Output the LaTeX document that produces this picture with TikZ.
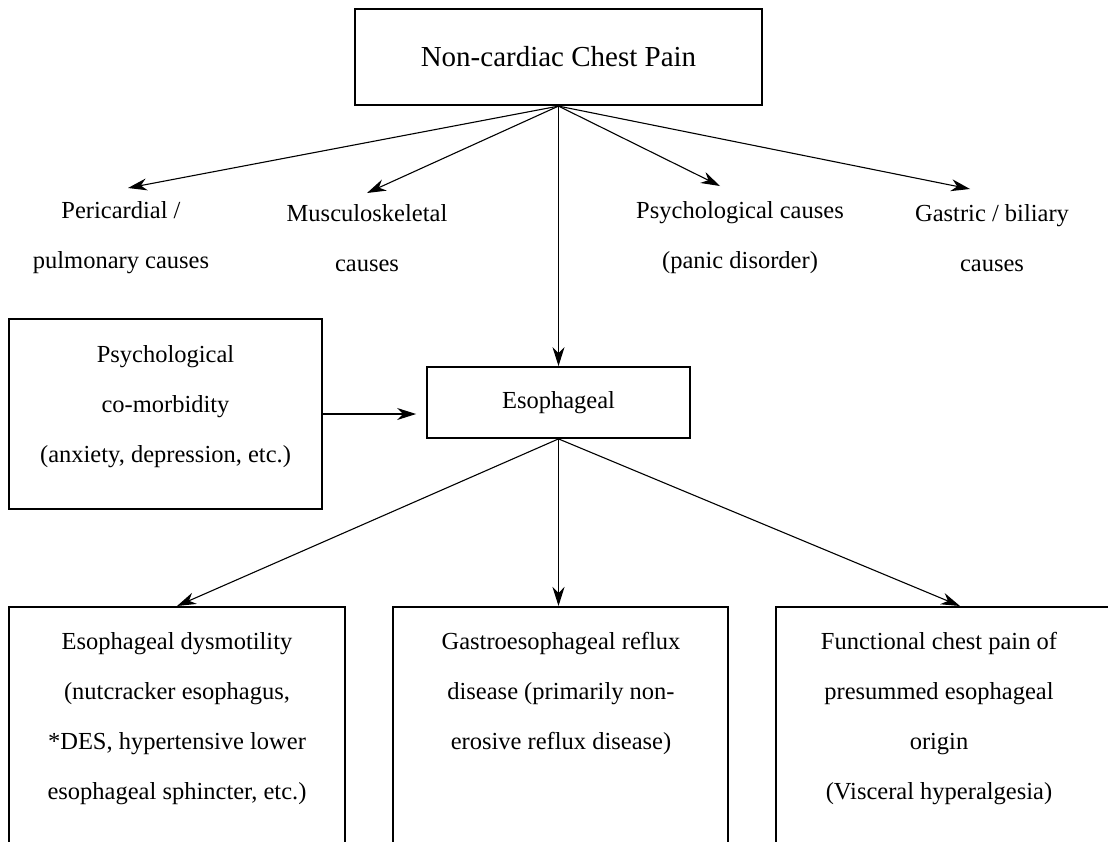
\documentclass[tikz,border=0pt]{standalone}
\usepackage{fontspec}
\setmainfont{Liberation Serif}
\usetikzlibrary{arrows.meta}
\begin{document}
\begin{tikzpicture}[x=1pt,y=-1pt,
  boxstyle/.style={draw, line width=1.8pt, inner sep=0pt},
  txt/.style={align=center, font=\fontsize{24.5}{50}\selectfont, inner sep=0pt},
  arr/.style={line width=1.1pt, -{Stealth[length=19pt,width=12pt,inset=6pt]}},
]
\useasboundingbox (0,0) rectangle (1108,841);
\clip (0,0) rectangle (1108,841);

% top
\node[boxstyle, line width=2.2pt, minimum width=407pt, minimum height=96pt,
      font=\fontsize{29}{34}\selectfont] (top) at (558.5,57) {Non-cardiac Chest Pain};

% causes
\node[txt] (peri) at (121,238) {Pericardial /\\pulmonary causes};
\node[txt] (musc) at (367,238) {Musculoskeletal\\causes};
\node[txt] (psyc) at (740,238) {Psychological causes\\(panic disorder)};
\node[txt] (gast) at (992,238) {Gastric / biliary\\causes};

\coordinate (tperi) at (128,188);
\coordinate (tmusc) at (367,193);
\coordinate (tpsyc) at (720,186);
\coordinate (tgast) at (970,189);

% esophageal
\node[boxstyle, txt, minimum width=263pt, minimum height=71pt] (eso) at (558.5,402.5) {Esophageal};

% psychological co-morbidity
\node[boxstyle, minimum width=313pt, minimum height=190pt] (comor) at (165.5,414) {};
\node[txt] (comortxt) at (165.5,407) {Psychological\\co-morbidity\\(anxiety, depression, etc.)};

% bottom boxes
\node[boxstyle, minimum width=336pt, minimum height=300pt, anchor=north] (lbox) at (177,606) {};
\node[boxstyle, minimum width=335pt, minimum height=300pt, anchor=north] (mbox) at (560.5,606) {};
\node[boxstyle, minimum width=336pt, minimum height=300pt, anchor=north] (rbox) at (944,606) {};

\node[txt, anchor=north] (ltxt) at (177,632) {Esophageal dysmotility\\(nutcracker esophagus,\\*DES, hypertensive lower\\esophageal sphincter, etc.)};
\node[txt, anchor=north] (mtxt) at (561,632) {Gastroesophageal reflux\\disease (primarily non-\\erosive reflux disease)};
\node[txt, anchor=north] (rtxt) at (939,632) {Functional chest pain of\\presummed esophageal\\origin\\(Visceral hyperalgesia)};

\coordinate (trb) at (960,606);

% connectors
\draw[arr] (top.south) -- (tperi);
\draw[arr] (top.south) -- (tmusc);
\draw[arr] (top.south) -- (tpsyc);
\draw[arr] (top.south) -- (tgast);
\draw[arr] (top.south) -- (eso.north);
\draw[arr, shorten >=10pt] (comor.east) -- (comor.east -| eso.west);
\draw[arr] (eso.south) -- (lbox.north);
\draw[arr] (eso.south) -- (eso.south |- mbox.north);
\draw[arr] (eso.south) -- (trb);
\end{tikzpicture}
\end{document}
